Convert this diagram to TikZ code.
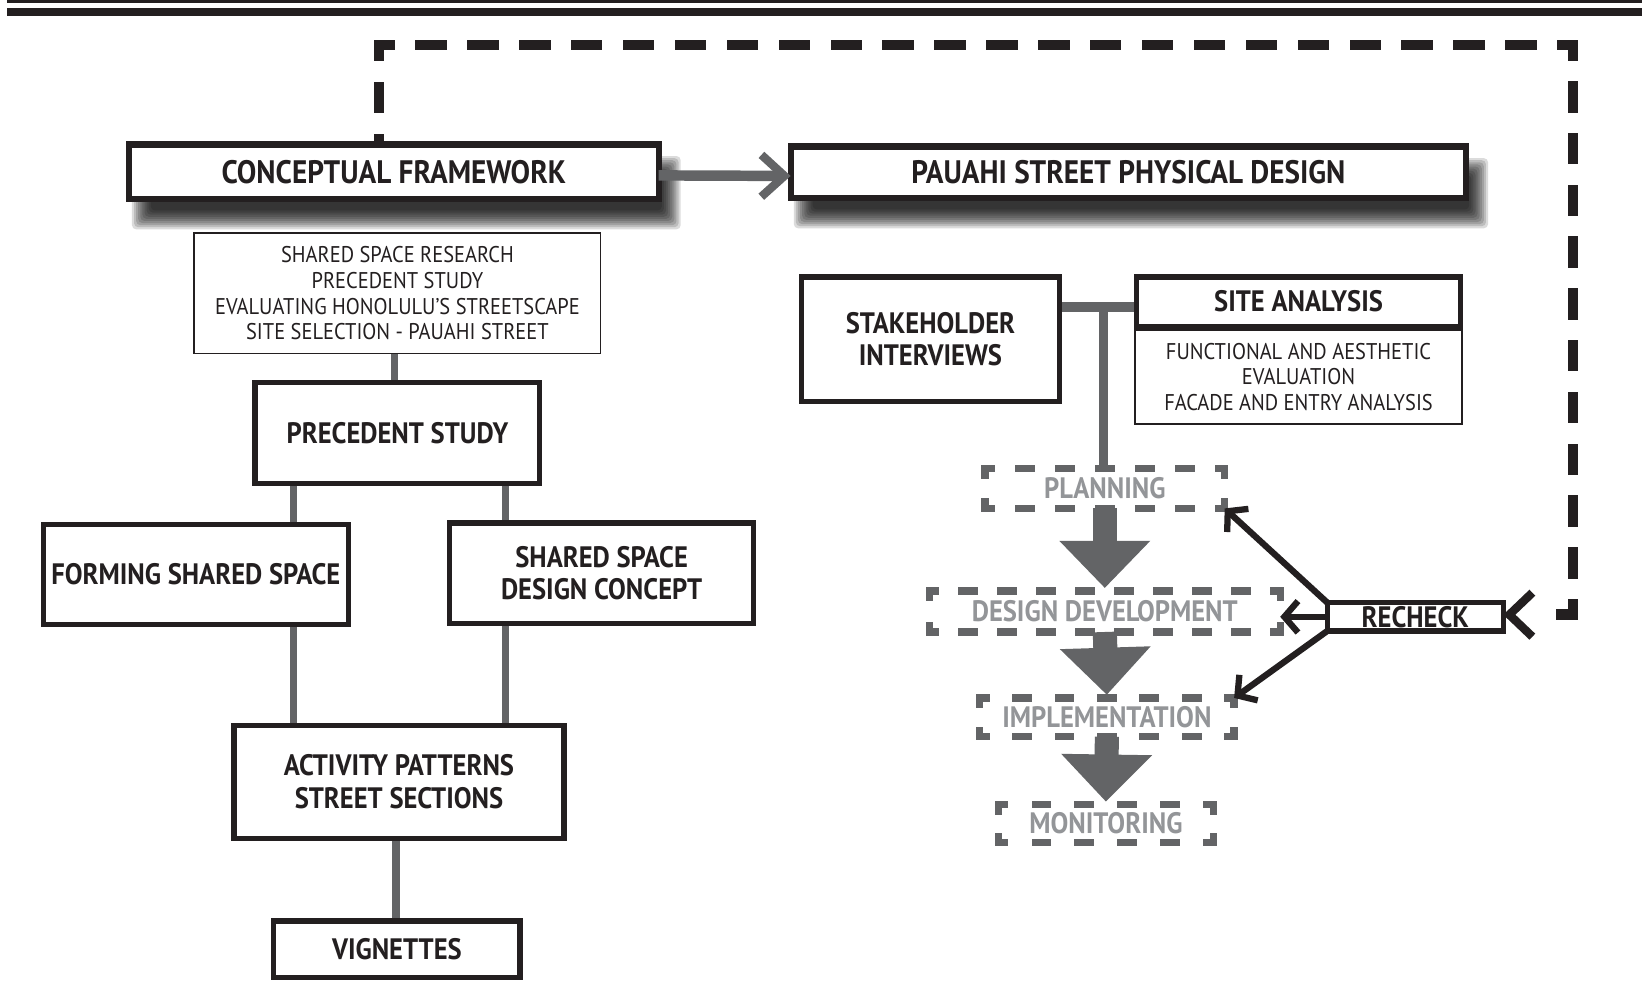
\documentclass[tikz,border=0pt]{standalone}
\usepackage{fontspec}
\setmainfont{PT Sans}[FakeStretch=0.9]
\usetikzlibrary{arrows.meta,calc}
\definecolor{ink}{HTML}{231F20}
\definecolor{conn}{HTML}{636466}
\definecolor{lbl}{HTML}{939598}
\pgfdeclarelayer{bg}
\pgfsetlayers{bg,main}
% dashed segment that starts and ends with half a dash
\newcommand\dseg[5]{%
  \path (#2); \pgfgetlastxy{\dsax}{\dsay}%
  \path (#3); \pgfgetlastxy{\dsbx}{\dsby}%
  \pgfmathsetmacro\dslen{veclen(\dsbx-\dsax,\dsby-\dsay)}%
  \pgfmathsetmacro\dsn{round(\dslen/(#4+#5))}%
  \ifdim\dsn pt<1pt
    \draw[#1] (#2) -- (#3);%
  \else
    \pgfmathsetmacro\dsoff{\dslen/\dsn-#4}%
    \pgfmathsetmacro\dsph{#4/2}%
    \draw[#1, dash pattern=on #4pt off \dsoff pt, dash phase=\dsph pt] (#2) -- (#3);%
  \fi
}
\newcommand\stageframe[1]{%
  \dseg{stagedash}{#1.north west}{#1.north east}{12}{26}%
  \dseg{stagedash}{#1.north east}{#1.south east}{12}{26}%
  \dseg{stagedash}{#1.south east}{#1.south west}{12}{26}%
  \dseg{stagedash}{#1.south west}{#1.north west}{12}{26}%
}
% soft drop shadow built from stacked translucent rectangles
\newcommand\softshadow[1]{%
  \begin{pgfonlayer}{bg}
  \foreach \sse in {9,7,5,3,1,-1,-3,-5,-7,-9}{%
    \fill[black, fill opacity=0.14, rounded corners=4pt]
      ($(#1.north west)+(12-\sse,20-\sse)$) rectangle ($(#1.south east)+(12+\sse,20+\sse)$);
  }
  \end{pgfonlayer}
}
\begin{document}
\begin{tikzpicture}[x=1pt,y=-1pt,
  base/.style={rectangle, inner sep=0pt, outer sep=0pt, align=center, text=ink, fill=white},
  bigbox/.style={base, draw=ink, line width=6pt, font=\fontsize{31}{34}\selectfont\bfseries},
  boldbox/.style={base, draw=ink, line width=5pt, font=\fontsize{28.2}{31}\selectfont\bfseries},
  thinbox/.style={base, draw=ink, line width=1.5pt, font=\fontsize{21.7}{24.6}\selectfont},
  stagebox/.style={base, text=lbl, font=\fontsize{28.2}{31}\selectfont\bfseries},
  stagedash/.style={draw=conn, line width=7pt, line cap=rect},
  connline/.style={draw=conn, line width=7pt},
  blockarrow/.style={draw=conn, line width=23pt, -{Triangle[length=45pt, width=84pt]}, shorten >=3pt},
  recheckarrow/.style={draw=ink, line width=6pt, -{Straight Barb[length=13pt, width=30pt]}},
  loopdash/.style={draw=ink, line width=10pt, line cap=rect},
]
\useasboundingbox (0,0) rectangle (1568,938);
\begin{pgfonlayer}{bg}
\fill[white] (0,0) rectangle (1568,938);
\end{pgfonlayer}

% top rules
\fill[ink] (7,0) rectangle (1568,2.5);
\fill[ink] (7,8) rectangle (1568,15.5);

% nodes
\node[bigbox, minimum width=506pt, minimum height=52pt] (CF) at (376,164) {CONCEPTUAL FRAMEWORK};
\node[bigbox, minimum width=645pt, minimum height=49pt] (PSPD) at (1077.5,164.5) {PAUAHI STREET PHYSICAL DESIGN};
\softshadow{CF}
\softshadow{PSPD}

\node[thinbox, minimum width=388pt, minimum height=115pt] (SSR) at (379.5,280)
  {SHARED SPACE RESEARCH\\PRECEDENT STUDY\\EVALUATING HONOLULU’S STREETSCAPE\\SITE SELECTION - PAUAHI STREET};
\node[boldbox, minimum width=272pt, minimum height=96pt] (PS) at (379.5,413.5) {PRECEDENT STUDY};
\node[boldbox, minimum width=291pt, minimum height=96pt] (FSS) at (187,548.5) {FORMING SHARED SPACE};
\node[boldbox, minimum width=290pt, minimum height=96pt] (SSDC) at (574.5,547.5) {SHARED SPACE\\DESIGN CONCEPT};
\node[boldbox, minimum width=315pt, minimum height=108pt] (AP) at (381,746.5) {ACTIVITY PATTERNS\\STREET SECTIONS};
\node[boldbox, minimum width=235pt, minimum height=54pt] (VG) at (379,906.5) {VIGNETTES};

\node[boldbox, minimum width=246pt, minimum height=119pt] (SI) at (888.5,324) {STAKEHOLDER\\INTERVIEWS};
\node[thinbox, minimum width=312pt, minimum height=90pt] (SAsub) at (1240,360)
  {FUNCTIONAL AND AESTHETIC\\EVALUATION\\FACADE AND ENTRY ANALYSIS};
\node[boldbox, minimum width=309pt, minimum height=47pt] (SA) at (1240,288) {SITE ANALYSIS};

\node[stagebox, minimum width=229pt, minimum height=38pt] (PL) at (1055,466.5) {PLANNING};
\node[stagebox, minimum width=335pt, minimum height=39pt] (DD) at (1055,584) {DESIGN DEVELOPMENT};
\node[stagebox, minimum width=243pt, minimum height=37pt] (IM) at (1057,685) {IMPLEMENTATION};
\node[stagebox, minimum width=205pt, minimum height=36pt] (MO) at (1056,786.5) {MONITORING};
\stageframe{PL}
\stageframe{DD}
\stageframe{IM}
\stageframe{MO}

\node[boldbox, minimum width=168pt, minimum height=27pt] (RC) at (1351.5,589) {RECHECK};

% helper coordinates
\coordinate (j1) at (1054,293);
\coordinate (lt) at (362,43);
\coordinate (rt) at (1502,43);
\coordinate (lend) at (1491,587);

% gray connectors and feedback loop behind boxes
\begin{pgfonlayer}{bg}
\draw[connline] (SSR.south -| 377,0) -- (PS.north -| 377,0);
\draw[connline] (PS.south -| 280,0) -- (FSS.north -| 280,0);
\draw[connline] (PS.south -| 483,0) -- (SSDC.north -| 483,0);
\draw[connline] (FSS.south -| 280,0) -- (AP.north -| 280,0);
\draw[connline] (SSDC.south -| 483,0) -- (AP.north -| 483,0);
\draw[connline] (AP.south -| 378,0) -- (VG.north -| 378,0);
\draw[connline, line width=9pt] (SI.east |- j1) -- (SA.west |- j1);
\draw[connline, line width=9pt] (j1) -- (j1 |- PL.north);
\dseg{loopdash}{$(CF.north -| lt)+(0,5)$}{lt}{20}{30}
\dseg{loopdash}{lt}{rt}{20}{30}
\dseg{loopdash}{rt}{rt |- lend}{20}{30}
\dseg{loopdash}{rt |- lend}{lend}{20}{30}
\end{pgfonlayer}

% main arrow
\draw[draw=conn, line width=10pt, -{Straight Barb[length=22pt, width=40pt, line width=8pt]}]
  ([yshift=-3.5pt]CF.east) -- ([yshift=-3.5pt]PSPD.west);

% process block arrows
\draw[blockarrow] (PL.south) -- (DD.north);
\draw[blockarrow] (DD.south) -- (IM.north);
\draw[blockarrow] (IM.south) -- (MO.north);

% recheck arrows
\draw[recheckarrow] (RC.north west) -- (PL.south east);
\draw[recheckarrow] (RC.west) -- (RC.west -| DD.east);
\draw[recheckarrow] (RC.south west) -- (IM.north east);

% feedback loop arrow tip
\draw[draw=ink, line width=9pt, dash pattern=on 0pt off 200pt,
  -{Straight Barb[length=22pt, width=42pt, line width=8pt]}] (lend) -- (RC.east |- lend);
\end{tikzpicture}
\end{document}
